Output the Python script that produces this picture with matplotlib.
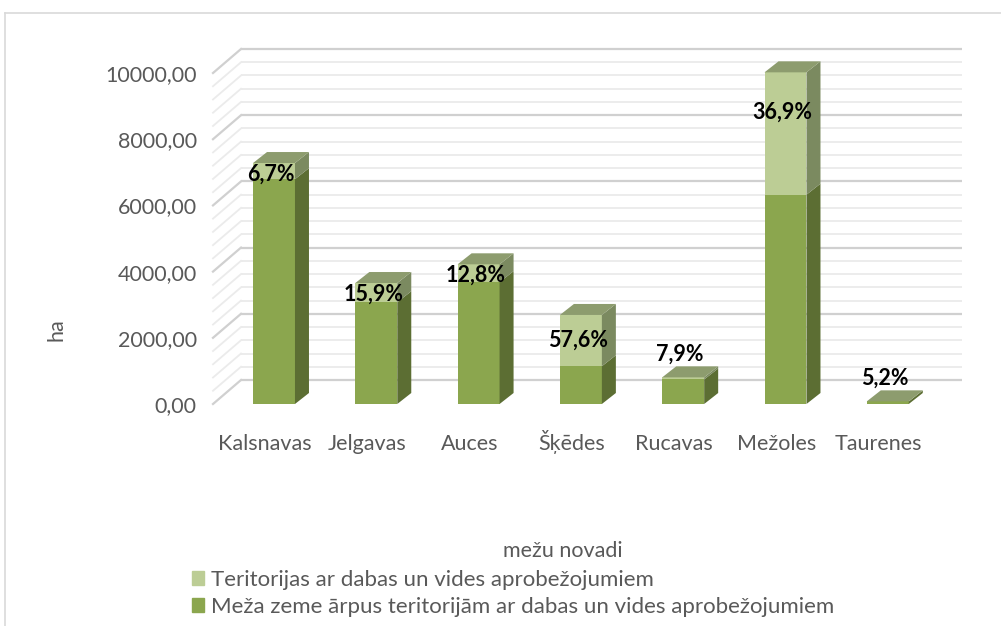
import numpy as np
import matplotlib.pyplot as plt
from matplotlib.patches import Polygon, Patch
from matplotlib.lines import Line2D

plt.rcParams['font.family'] = ['Lato', 'DejaVu Sans']

# data (ha)
novadi = ['Kalsnavas', 'Jelgavas', 'Auces', 'Šķēdes', 'Rucavas', 'Mežoles', 'Taurenes']
arpus = [6792, 3074, 3680, 1141, 741, 6323, 76]      # Meža zeme ārpus teritorijām ...
teritorijas = [488, 581, 540, 1549, 64, 3697, 4]     # Teritorijas ar dabas un vides ...
procenti = ['6,7%', '15,9%', '12,8%', '57,6%', '7,9%', '36,9%', '5,2%']
yticks = [0, 2000, 4000, 6000, 8000, 10000]

dark_front = '#8ba64e'
dark_side = '#5c6e33'
light_front = '#bccd95'
light_side = '#7b8a60'
top_col = '#8d9c6e'
txt = '#595959'
fs = 15.5

W, H = 1001, 626
fig = plt.figure(figsize=(W / 100, H / 100), dpi=100)

# axes placed in pixels
left, right, top, bottom = 205, 975, 40, 415
ax = fig.add_axes([left / W, 1 - bottom / H, (right - left) / W, (bottom - top) / H])
px_cat = 102.3      # pixels per category
px_val = 0.0331     # pixels per ha
x0_px, y0_px = 274, 404
ax.set_xlim((left - x0_px) / px_cat, (right - x0_px) / px_cat)
ax.set_ylim((y0_px - bottom) / px_val, (y0_px - top) / px_val)

# depth offsets (data units)
bdx, bdy = 14 / px_cat, 11 / px_val      # bars
wdx, wdy = 28 / px_cat, 24 / px_val      # back wall
xl = (213 - x0_px) / px_cat
xr = (962 - x0_px) / px_cat

# walls and gridlines
for v in range(0, 10001, 400):
    major = v % 2000 == 0
    c = '#d0d0d0' if major else '#ebebeb'
    lw = 1.6 if major else 1.3
    ax.plot([xl + wdx, xr], [v + wdy, v + wdy], color=c, lw=lw, zorder=1, solid_capstyle='butt')
    ax.plot([xl, xl + wdx], [v, v + wdy], color=c, lw=lw, zorder=1)

# bars
x = np.arange(len(novadi))
w = 0.41
ax.bar(x, arpus, width=w, color=dark_front, zorder=3)
ax.bar(x, teritorijas, bottom=arpus, width=w, color=light_front, zorder=3)
for i in range(len(novadi)):
    xe = x[i] + w / 2
    segs = [(0, arpus[i], dark_side), (arpus[i], arpus[i] + teritorijas[i], light_side)]
    for y0, y1, c in segs:
        ax.add_patch(Polygon([(xe, y0), (xe + bdx, y0 + bdy), (xe + bdx, y1 + bdy), (xe, y1)],
                             closed=True, color=c, zorder=3, lw=0))
    tot = arpus[i] + teritorijas[i]
    ax.add_patch(Polygon([(x[i] - w / 2, tot), (x[i] - w / 2 + bdx, tot + bdy),
                          (xe + bdx, tot + bdy), (xe, tot)], closed=True, color=top_col, zorder=3, lw=0))
    if tot < 1000:
        ly = tot + 700
    else:
        ly = tot - min(max(teritorijas[i] / 2, 330), 1200)
    ax.text(x[i] - 0.03, ly, procenti[i], ha='center', va='center', fontsize=15.5,
            fontweight='bold', color='black', zorder=5)

ax.set_yticks(yticks)
ax.set_yticklabels([f'{v},00' for v in yticks], fontsize=fs, color=txt)
ax.set_xticks(x - 0.09)
ax.set_xticklabels(novadi, fontsize=fs, color=txt)
for lab in ax.get_xticklabels():
    lab.set_va('baseline')
ax.tick_params(axis='y', length=0, pad=6)
ax.tick_params(axis='x', length=0, pad=25)
for s in ax.spines.values():
    s.set_visible(False)
ax.set_facecolor('none')

fig.text(57 / W, 1 - 330 / H, 'ha', rotation=90, ha='center', va='center', fontsize=fs, color=txt)
fig.text(563 / W, 1 - 551 / H, 'mežu novadi', ha='center', va='center', fontsize=fs, color=txt)

handles = [Patch(color=light_front), Patch(color=dark_front)]
labels = ['Teritorijas ar dabas un vides aprobežojumiem',
          'Meža zeme ārpus teritorijām ar dabas un vides aprobežojumiem']
fig.legend(handles, labels, loc='upper left', bbox_to_anchor=(192 / W, 1 - 570 / H),
           frameon=False, fontsize=16, labelcolor=txt, handlelength=0.55, handleheight=0.55,
           handletextpad=0.3, labelspacing=0.3, borderaxespad=0, borderpad=0)

# outer frame (top and left only visible)
fig.add_artist(Line2D([5 / W, 5 / W], [0, 1 - 13 / H], color='#d9d9d9', lw=1.2))
fig.add_artist(Line2D([5 / W, 1], [1 - 13 / H, 1 - 13 / H], color='#d9d9d9', lw=1.2))

fig.savefig('out.png', dpi=100)
